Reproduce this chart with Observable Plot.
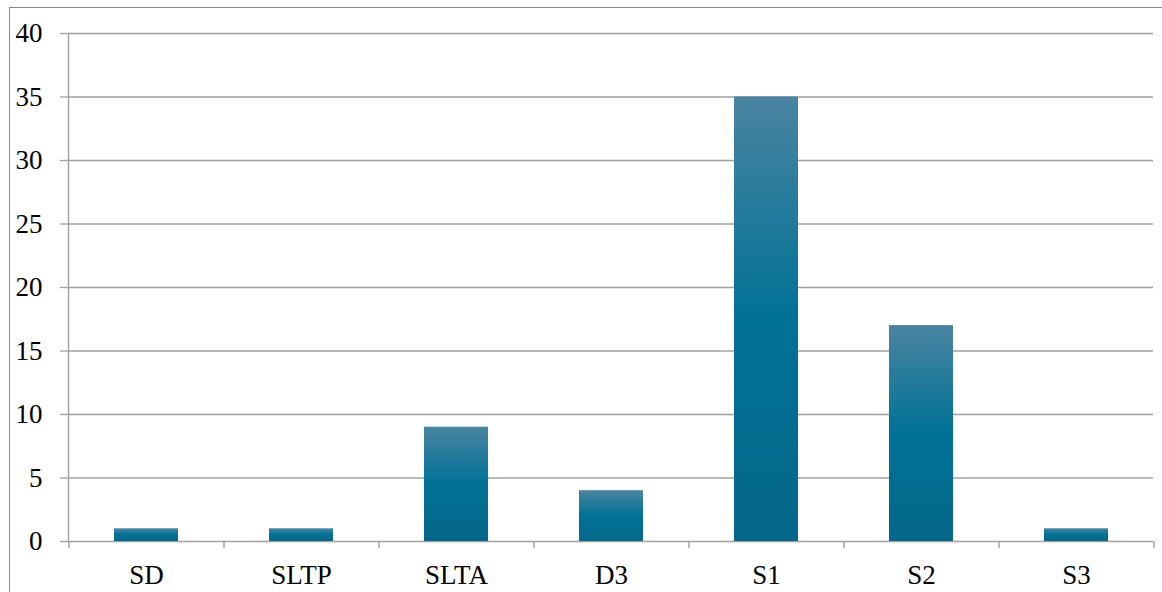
<!DOCTYPE html>
<html>
<head>
<meta charset="utf-8">
<script src="https://cdn.jsdelivr.net/npm/d3@7"></script>
<script src="https://cdn.jsdelivr.net/npm/@observablehq/plot@0.6"></script>
<style>
  html, body { margin: 0; padding: 0; background: #fff; }
  #wrap { position: relative; width: 1162px; height: 592px; overflow: hidden; }
  #frame { position: absolute; left: 9px; top: 7px; width: 1200px; height: 700px;
           border-left: 1.5px solid #8c8c8c; border-top: 1.5px solid #8c8c8c; }
  #chart { position: absolute; left: 0; top: 0; }
  #chart svg [aria-label^="y-axis"] line, #chart svg [aria-label^="y-axis"] path { stroke: #a0a0a0; stroke-width: 1.3; }
  #chart svg text { fill: #000 !important; font-size: 27px !important; font-family: 'Liberation Serif', 'DejaVu Serif', serif !important; }
</style>
</head>
<body>
<div id="wrap"><div id="frame"></div><div id="chart"></div></div>
<script>
const categories = ["SD", "SLTP", "SLTA", "D3", "S1", "S2", "S3"];
const values = [1, 1, 9, 4, 35, 17, 1];
const yTicks = [0, 5, 10, 15, 20, 25, 30, 35, 40];

const data = categories.map((c, i) => ({cat: c, value: values[i]}));
const font = "'Liberation Serif', 'DejaVu Serif', serif";
const plotWidth = 1162, mL = 68, mR = 9;
const step = (plotWidth - mL - mR) / categories.length;

const chart = Plot.plot({
  width: plotWidth,
  height: 592,
  marginLeft: mL,
  marginRight: mR,
  marginTop: 33,
  marginBottom: 51,
  className: "chart",
  style: {fontFamily: font, fontSize: "27px", background: "transparent", overflow: "visible"},
  x: {domain: categories, paddingInner: 0.59, paddingOuter: 0.295, tickSize: 0, tickPadding: 23, label: null},
  y: {domain: [0, 40], ticks: yTicks, tickSize: 8, tickPadding: 18, label: null, tickFormat: d => String(d)},
  marks: [
    Plot.ruleY(yTicks, {stroke: "#a0a0a0", strokeWidth: 1.4}),
    Plot.barY(data, {x: "cat", y: "value", fill: "url(#barGrad)"}),
    Plot.frame({anchor: "left", stroke: "#a0a0a0", strokeWidth: 1.4}),
    Plot.ruleX(categories, {x: d => d, dx: -step / 2, y1: 0, y2: -0.55, stroke: "#a0a0a0", strokeWidth: 1.4}),
    Plot.ruleX(categories.slice(-1), {x: d => d, dx: step / 2, y1: 0, y2: -0.55, stroke: "#a0a0a0", strokeWidth: 1.4})
  ]
});

const defs = d3.create("svg:defs");
const g = defs.append("linearGradient").attr("id", "barGrad")
  .attr("x1", 0).attr("y1", 0).attr("x2", 0).attr("y2", 1);
g.append("stop").attr("offset", "0%").attr("stop-color", "#4a84a1");
g.append("stop").attr("offset", "50%").attr("stop-color", "#007296");
g.append("stop").attr("offset", "100%").attr("stop-color", "#05678a");
chart.insertBefore(defs.node(), chart.firstChild);

document.getElementById("chart").appendChild(chart);
</script>
</body>
</html>
